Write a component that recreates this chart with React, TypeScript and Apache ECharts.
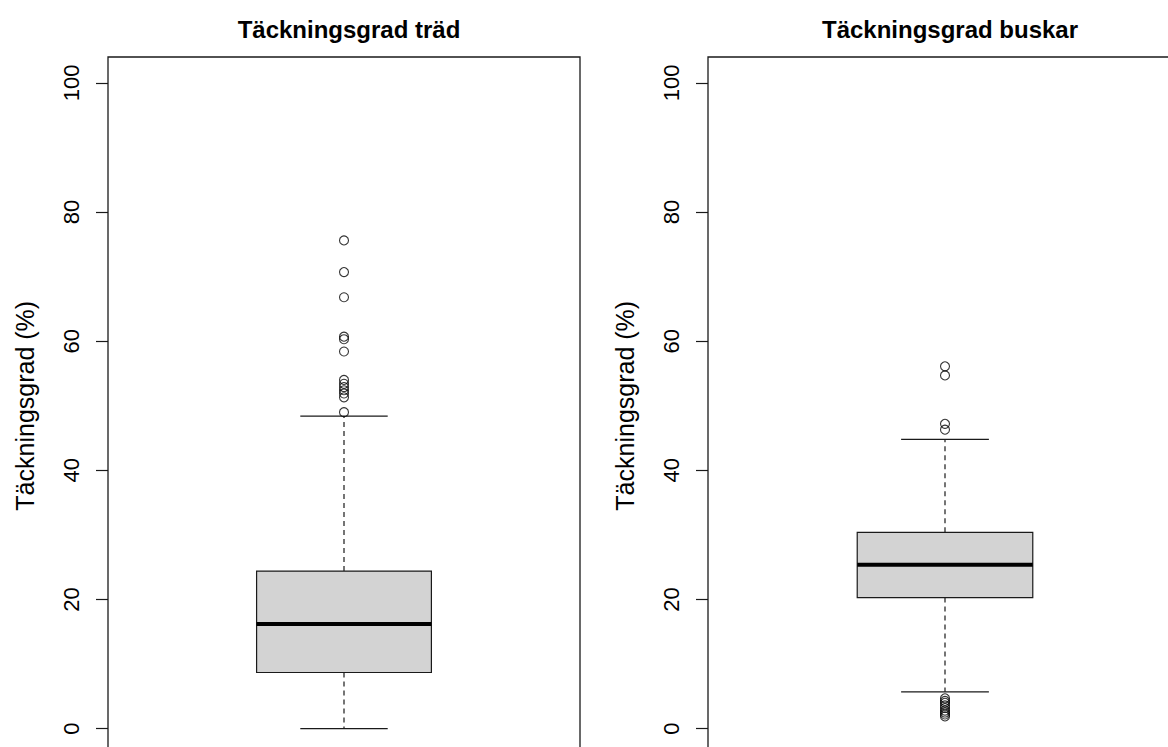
import React, { useEffect, useRef } from "react";
import * as echarts from "echarts";

const titles = ["Täckningsgrad träd", "Täckningsgrad buskar"];
const yAxisName = "Täckningsgrad (%)";
const yTicks = [0, 20, 40, 60, 80, 100];
// [lower whisker, Q1, median, Q3, upper whisker]
const tradStats = [0, 8.7, 16.2, 24.4, 48.4];
const tradOutliers = [75.6, 70.7, 66.8, 60.7, 60.3, 58.4, 54.0, 53.4, 52.9, 52.4, 51.9, 51.3, 49.0];
const buskarStats = [5.7, 20.3, 25.4, 30.4, 44.8];
const buskarOutliers = [56.1, 54.7, 47.2, 46.3, 4.7, 4.3, 4.0, 3.6, 3.2, 2.8, 2.5, 2.2, 1.9];

const LINE = "#1a1a1a";

function renderBox(params: any, api: any) {
  const x = api.value(0);
  const lo = api.value(1);
  const q1 = api.value(2);
  const med = api.value(3);
  const q3 = api.value(4);
  const hi = api.value(5);
  const c = (xx: number, yy: number) => api.coord([xx, yy]);
  const xc = c(x, lo)[0];
  const yLo = c(x, lo)[1];
  const yQ1 = c(x, q1)[1];
  const yMed = c(x, med)[1];
  const yQ3 = c(x, q3)[1];
  const yHi = c(x, hi)[1];
  const bL = c(x - 0.2, q1)[0];
  const bR = c(x + 0.2, q1)[0];
  const sL = c(x - 0.1, q1)[0];
  const sR = c(x + 0.1, q1)[0];
  const dash = { stroke: LINE, lineWidth: 1.2, lineDash: [5, 4] };
  const solid = { stroke: LINE, lineWidth: 1.2 };
  return {
    type: "group",
    children: [
      { type: "line", shape: { x1: xc, y1: yQ3, x2: xc, y2: yHi }, style: dash },
      { type: "line", shape: { x1: xc, y1: yQ1, x2: xc, y2: yLo }, style: dash },
      { type: "line", shape: { x1: sL, y1: yHi, x2: sR, y2: yHi }, style: solid },
      { type: "line", shape: { x1: sL, y1: yLo, x2: sR, y2: yLo }, style: solid },
      {
        type: "rect",
        shape: { x: bL, y: yQ3, width: bR - bL, height: yQ1 - yQ3 },
        style: { fill: "#d3d3d3", stroke: LINE, lineWidth: 1.2 },
      },
      { type: "line", shape: { x1: bL, y1: yMed, x2: bR, y2: yMed }, style: { stroke: "#000", lineWidth: 4 } },
    ],
  };
}

export default function App() {
  const ref = useRef<HTMLDivElement>(null);
  useEffect(() => {
    if (!ref.current) return;
    const chart = echarts.init(ref.current, undefined, { renderer: "svg" });
    const font = "'Liberation Sans', Arial, sans-serif";
    const grids = [
      { left: 108, top: 57, width: 472, height: 697.5 },
      { left: 708, top: 57, width: 474, height: 697.5 },
    ];
    const centers = [344, 945];
    const yAxisCommon = (i: number) => ({
      gridIndex: i,
      type: "value",
      min: -4,
      max: 104,
      name: yAxisName,
      nameLocation: "middle",
      nameRotate: 90,
      nameGap: 71,
      nameTextStyle: { fontFamily: font, fontSize: 25, color: "#000" },
      axisLine: { show: false },
      axisTick: { show: true, length: 12, customValues: yTicks, lineStyle: { color: LINE, width: 1.2 } },
      axisLabel: {
        customValues: yTicks,
        rotate: 90,
        margin: 26,
        fontFamily: font,
        fontSize: 22,
        color: "#000",
      },
      splitLine: { show: false },
    });
    chart.setOption({
      animation: false,
      backgroundColor: "#fff",
      title: titles.map((t, i) => ({
        text: t,
        left: centers[i],
        top: 12,
        textAlign: "center",
        textStyle: { fontFamily: font, fontSize: 24, fontWeight: "bold", color: "#000" },
      })),
      grid: grids.map((g) => ({ ...g, show: true, borderColor: LINE, borderWidth: 1.3, backgroundColor: "transparent" })),
      xAxis: [0, 1].map((i) => ({ gridIndex: i, type: "value", min: 0.46, max: 1.54, show: false })),
      yAxis: [yAxisCommon(0), yAxisCommon(1)],
      series: [
        {
          type: "custom",
          xAxisIndex: 0,
          yAxisIndex: 0,
          renderItem: renderBox,
          data: [[1, ...tradStats]],
        },
        {
          type: "scatter",
          xAxisIndex: 0,
          yAxisIndex: 0,
          symbol: "circle",
          symbolSize: 9,
          itemStyle: { color: "transparent", borderColor: "#000", borderWidth: 1.1 },
          data: tradOutliers.map((v) => [1, v]),
        },
        {
          type: "custom",
          xAxisIndex: 1,
          yAxisIndex: 1,
          renderItem: renderBox,
          data: [[1, ...buskarStats]],
        },
        {
          type: "scatter",
          xAxisIndex: 1,
          yAxisIndex: 1,
          symbol: "circle",
          symbolSize: 9,
          itemStyle: { color: "transparent", borderColor: "#000", borderWidth: 1.1 },
          data: buskarOutliers.map((v) => [1, v]),
        },
      ],
    });
    return () => chart.dispose();
  }, []);
  return (
    <div style={{ position: "fixed", left: 0, top: 0, width: 1168, height: 747, overflow: "hidden", background: "#fff" }}>
      <div ref={ref} style={{ width: 1200, height: 800 }} />
    </div>
  );
}
